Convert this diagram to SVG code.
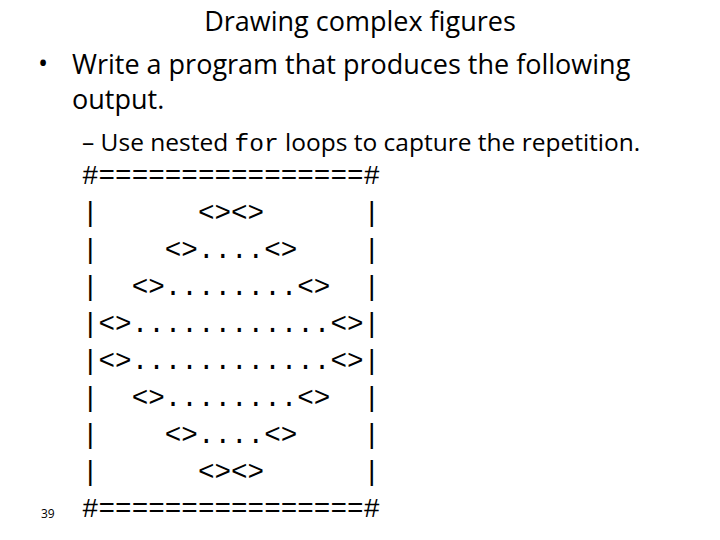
<svg xmlns="http://www.w3.org/2000/svg" width="720" height="540" viewBox="0 0 720 540">
<style>
.t{font-family:"Open Sans","Liberation Sans",sans-serif;fill:#000}
.m{font-family:"Liberation Mono","Courier New",monospace;font-size:27.6px;fill:#000}
</style>
<rect width="720" height="540" fill="#fff"/>
<text class="t" x="360" y="31" font-size="27" text-anchor="middle">Drawing complex figures</text>
<text class="t" x="38" y="73" font-size="27">•</text>
<text class="t" x="72" y="74" font-size="27">Write a program that produces the following</text>
<text class="t" x="72" y="109" font-size="27">output.</text>
<text class="t" x="82" y="151" font-size="24.5">– Use nested <tspan font-family="Liberation Mono,monospace">for</tspan> loops to capture the repetition.</text>
<g id="figure">
<text class="m" x="82" y="184">#================#</text>
<text class="m" x="82" y="221">|&#160;&#160;&#160;&#160;&#160;&#160;&lt;&gt;&lt;&gt;&#160;&#160;&#160;&#160;&#160;&#160;|</text>
<text class="m" x="82" y="258">|&#160;&#160;&#160;&#160;&lt;&gt;....&lt;&gt;&#160;&#160;&#160;&#160;|</text>
<text class="m" x="82" y="295">|&#160;&#160;&lt;&gt;........&lt;&gt;&#160;&#160;|</text>
<text class="m" x="82" y="332">|&lt;&gt;............&lt;&gt;|</text>
<text class="m" x="82" y="369">|&lt;&gt;............&lt;&gt;|</text>
<text class="m" x="82" y="406">|&#160;&#160;&lt;&gt;........&lt;&gt;&#160;&#160;|</text>
<text class="m" x="82" y="443">|&#160;&#160;&#160;&#160;&lt;&gt;....&lt;&gt;&#160;&#160;&#160;&#160;|</text>
<text class="m" x="82" y="480">|&#160;&#160;&#160;&#160;&#160;&#160;&lt;&gt;&lt;&gt;&#160;&#160;&#160;&#160;&#160;&#160;|</text>
<text class="m" x="82" y="517">#================#</text>
</g>
<text class="t" x="41" y="518" font-size="12" fill="#888">39</text>
</svg>
